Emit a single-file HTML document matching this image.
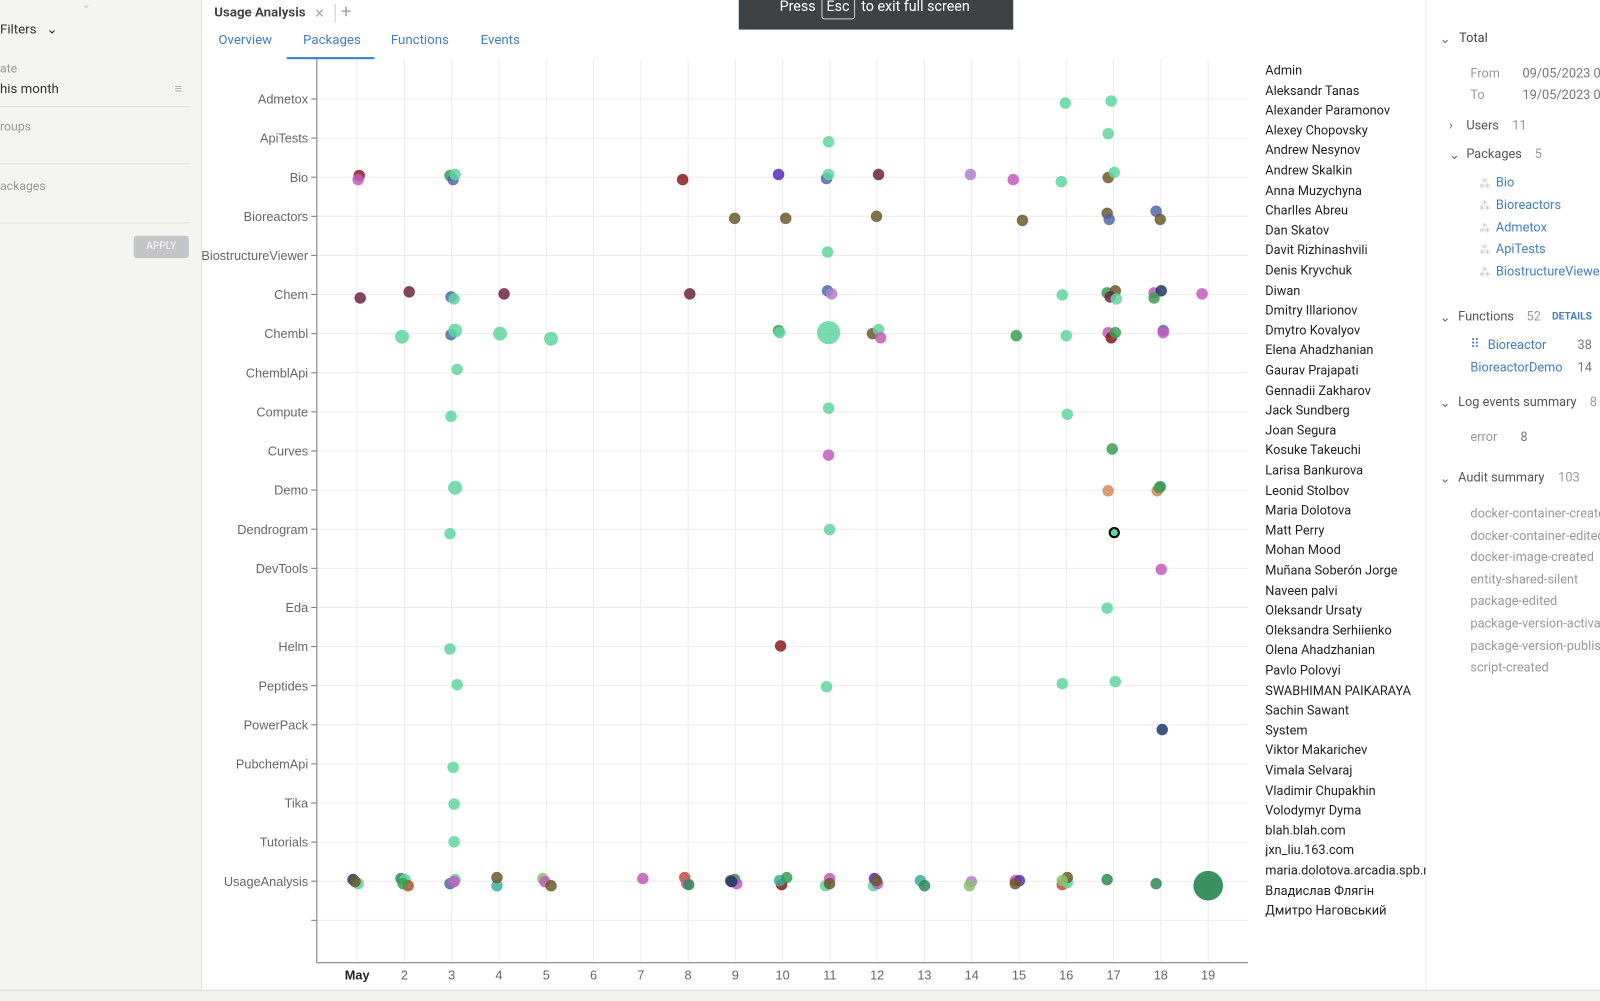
<!DOCTYPE html>
<html><head><meta charset="utf-8"><style>
html,body{margin:0;padding:0;width:1600px;height:1000px;overflow:hidden;background:#fff;font-family:"Roboto","Liberation Sans","Noto Sans CJK SC",sans-serif;}
#w{position:absolute;left:0;top:0;width:1568px;height:980px;transform:scale(1.020408);transform-origin:0 0;}
.a{position:absolute;white-space:nowrap;}
</style></head><body><div id="w">
<div class="a" style="left:0;top:0;width:197px;height:980px;background:#f4f4f1;border-right:1px solid #e3e3e0"></div>
<div class="a" style="left:80px;top:-2px;color:#ccc;font-size:11px">⌄</div>
<div class="a" style="left:0;top:22px;font-size:13px;color:#333">Filters&nbsp;&nbsp;&nbsp;⌄</div>
<div class="a" style="left:0;top:60px;font-size:12px;color:#999">ate</div>
<div class="a" style="left:0;top:80px;font-size:13px;color:#333">his month</div>
<div class="a" style="left:171px;top:79px;font-size:13px;color:#aaa">≡</div>
<div class="a" style="left:0;top:104px;width:185px;height:1px;background:#ddd"></div>
<div class="a" style="left:0;top:117px;font-size:12px;color:#999">roups</div>
<div class="a" style="left:0;top:160px;width:185px;height:1px;background:#ddd"></div>
<div class="a" style="left:0;top:175px;font-size:12px;color:#999">ackages</div>
<div class="a" style="left:0;top:218px;width:185px;height:1px;background:#ddd"></div>
<div class="a" style="left:131px;top:231px;width:54px;height:22px;background:#c4c5c7;border-radius:3px;color:#fff;font-size:10px;line-height:22px;text-align:center">APPLY</div>

<div class="a" style="left:210px;top:5px;font-size:13px;font-weight:bold;color:#444">Usage Analysis</div>
<div class="a" style="left:309px;top:3px;font-size:16px;color:#aaa">×</div>
<div class="a" style="left:328px;top:4px;width:1px;height:18px;background:#ccc"></div>
<div class="a" style="left:334px;top:1px;font-size:18px;color:#aaa">+</div>
<div class="a" style="left:214px;top:32px;font-size:13px;color:#3f7fc4">Overview</div>
<div class="a" style="left:297px;top:32px;font-size:13px;color:#3f7fc4">Packages</div>
<div class="a" style="left:383px;top:32px;font-size:13px;color:#3f7fc4">Functions</div>
<div class="a" style="left:471px;top:32px;font-size:13px;color:#3f7fc4">Events</div>
<div class="a" style="left:281px;top:56px;width:86px;height:2px;background:#2f83d2"></div>

<svg class="a" style="left:0;top:0" width="1568" height="980" id="s"></svg>

<div class="a" style="left:724px;top:0;width:269px;height:29px;background:#3f4245;color:#fff;font-size:14px;line-height:14px"><span style="position:absolute;left:40px;top:0">Press</span><span style="position:absolute;left:81px;top:-4px;border:1px solid #ccc;border-radius:3px;padding:3px 4px 4px">Esc</span><span style="position:absolute;left:120px;top:0">to exit full screen</span></div>

<div id="leg"></div>
<div class="a" style="left:1397px;top:0;width:1px;height:970px;background:#eee"></div>
<div id="rp" style="font-size:12.5px"></div>
<div class="a" style="left:0;top:970px;width:1568px;height:10px;background:#f2f2ef;border-top:1px solid #ddd"></div>
</div>
<script>
var s=document.getElementById('s'),h='';
var cats=["Admetox","ApiTests","Bio","Bioreactors","BiostructureViewer","Chem","Chembl","ChemblApi","Compute","Curves","Demo","Dendrogram","DevTools","Eda","Helm","Peptides","PowerPack","PubchemApi","Tika","Tutorials","UsageAnalysis",""];
function Y(i){return 97+i*38.33}function X(d){return 350+(d-1)*46.33}
for(var i=0;i<22;i++){var y=Y(i);h+='<line x1="310" x2="1223" y1="'+y+'" y2="'+y+'" stroke="#ececec"/><line x1="305" x2="310" y1="'+y+'" y2="'+y+'" stroke="#777"/><text x="302" y="'+(y+4.5)+'" text-anchor="end" font-size="12.5" fill="#666" font-family="Liberation Sans">'+cats[i]+'</text>';}
for(var d=1;d<=19;d++){var x=X(d);h+='<line x1="'+x+'" x2="'+x+'" y1="58" y2="943" stroke="#ececec"/><text x="'+x+'" y="960" text-anchor="middle" font-size="12.5" fill="'+(d==1?'#222':'#666')+'" font-weight="'+(d==1?'bold':'normal')+'" font-family="Liberation Sans">'+(d==1?'May':d)+'</text>';}
h+='<line x1="310.5" x2="310.5" y1="58" y2="943" stroke="#777"/><line x1="310" x2="1223" y1="943.5" y2="943.5" stroke="#777"/>';
var C={M:'#5fd6a0',D:'#6e2340',O:'#6b5a2a',P:'#c45cc0',B:'#5068a8',R:'#8b1a1a',G:'#3aa050',V:'#5b2bc0',L:'#b080d0',N:'#1e3a6a',T:'#2e8b57',Q:'#d88a5a',E:'#c84a30',A:'#90c070',K:'#3ab0a0'};
var p=[[1044,101,'M'],[1089,99,'M'],[812,139,'M'],[1086,131,'M'],
[352,172,'R'],[351,176,'P'],[441,172,'G'],[444,176,'B'],[446,171,'M'],[669,176,'R'],[763,171,'V'],[810,175,'B'],[812,171,'M'],[861,171,'D'],[951,171,'L'],[993,176,'P'],[1040,178,'M'],[1086,174,'O'],[1092,169,'M'],
[720,214,'O'],[770,214,'O'],[859,212,'O'],[1002,216,'O'],[1085,209,'O'],[1087,215,'B'],[1133,207,'B'],[1137,215,'O'],[811,247,'M'],
[353,292,'D'],[401,286,'D'],[442,291,'B'],[445,293,'M'],[494,288,'D'],[676,288,'D'],[811,285,'B'],[815,288,'L'],[1041,289,'M'],[1085,287,'G'],[1093,285,'O'],[1088,291,'D'],[1094,293,'M'],[1131,287,'P'],[1138,285,'N'],[1131,292,'G'],[1178,288,'P'],
[394,330,'M',6.5],[442,328,'B'],[446,324,'M',6.5],[490,327,'M',6.5],[540,332,'M',6.5],[763,324,'G'],[764,326,'M'],[812,326,'M',11],[855,327,'O'],[861,323,'M'],[863,331,'P'],[996,329,'G'],[1045,329,'M'],[1086,326,'P'],[1089,331,'R'],[1093,326,'G'],[1140,324,'B'],[1140,326,'P'],
[448,362,'M'],[442,408,'M'],[812,400,'M'],[1046,406,'M'],[812,446,'P'],[1090,440,'G'],
[446,478,'M',6.5],[1086,481,'Q'],[1137,477,'T'],[1134,481,'Q'],[1136,478,'G'],
[441,523,'M'],[813,519,'M'],[1138,558,'P'],[1085,596,'M'],[441,636,'M'],[765,633,'R'],
[448,671,'M'],[810,673,'M'],[1041,670,'M'],[1093,668,'M'],[1139,715,'N'],[444,752,'M'],[445,788,'M'],[445,825,'M'],
[346,862,'N'],[351,866,'M'],[348,864,'O'],[393,861,'T'],[397,862,'M'],[400,868,'E'],[395,866,'G'],[441,866,'B'],[446,862,'M'],[445,864,'P'],[487,868,'K'],[487,860,'O'],[532,861,'A'],[534,864,'P'],[540,868,'O'],[630,861,'P'],
[671,860,'E'],[673,866,'P'],[675,867,'T'],[716,863,'O'],[720,862,'T'],[722,866,'P'],[717,864,'N'],[766,867,'R'],[764,863,'K'],[771,860,'G'],[809,868,'M'],[813,861,'P'],[813,866,'O'],[856,868,'M'],[857,861,'V'],[860,866,'P'],[859,863,'O'],
[902,863,'K'],[906,868,'T'],[952,864,'L'],[950,868,'A'],[995,863,'P'],[999,863,'V'],[995,866,'O'],[1041,867,'E'],[1046,865,'M'],[1046,860,'O'],[1041,863,'A'],[1085,862,'T'],[1133,866,'T']];
p.forEach(function(a){h+='<circle cx="'+a[0]+'" cy="'+a[1]+'" r="'+(a[3]||5.3)+'" fill="'+C[a[2]]+'" fill-opacity="0.85" stroke="'+C[a[2]]+'" stroke-opacity="0.6" stroke-width="0.8"/>';});
h+='<circle cx="1092" cy="522" r="4.5" fill="#5fd6a0" stroke="#000" stroke-width="2"/>';
h+='<circle cx="1184" cy="868" r="14.5" fill="#2e8b57" fill-opacity="0.95"/>';
s.innerHTML=h;
var n=["Admin","Aleksandr Tanas","Alexander Paramonov","Alexey Chopovsky","Andrew Nesynov","Andrew Skalkin","Anna Muzychyna","Charlles Abreu","Dan Skatov","Davit Rizhinashvili","Denis Kryvchuk","Diwan","Dmitry Illarionov","Dmytro Kovalyov","Elena Ahadzhanian","Gaurav Prajapati","Gennadii Zakharov","Jack Sundberg","Joan Segura","Kosuke Takeuchi","Larisa Bankurova","Leonid Stolbov","Maria Dolotova","Matt Perry","Mohan Mood","Muñana Soberón Jorge","Naveen palvi","Oleksandr Ursaty","Oleksandra Serhiienko","Olena Ahadzhanian","Pavlo Polovyi","SWABHIMAN PAIKARAYA","Sachin Sawant","System","Viktor Makarichev","Vimala Selvaraj","Vladimir Chupakhin","Volodymyr Dyma","blah.blah.com","jxn_liu.163.com","maria.dolotova.arcadia.spb.ru","Владислав Флягін","Дмитро Наговський"];
var l='';n.forEach(function(t,i){l+='<div class="a" style="left:1240px;top:'+(62+i*19.6)+'px;font-size:12.5px;color:#222;width:157px;overflow:hidden">'+t+'</div>';});
document.getElementById('leg').innerHTML=l;
var r=[[1411,30,'⌄','#666'],[1430,30,'Total','#444'],[1441,65,'From','#999'],[1492,65,'09/05/2023 0','#777'],[1441,86,'To','#999'],[1492,86,'19/05/2023 0','#777'],
[1420,116,'›','#666'],[1437,116,'Users','#555'],[1482,116,'11','#999'],[1420,144,'⌄','#666'],[1437,144,'Packages','#555'],[1504,144,'5','#999'],
[1466,172,'Bio','#3f7fc4'],[1466,194,'Bioreactors','#3f7fc4'],[1466,216,'Admetox','#3f7fc4'],[1466,237,'ApiTests','#3f7fc4'],[1466,259,'BiostructureViewer','#3f7fc4'],
[1411,303,'⌄','#666'],[1429,303,'Functions','#555'],[1496,303,'52','#999'],[1458,331,'Bioreactor','#3f7fc4'],[1546,331,'38','#777'],[1441,353,'BioreactorDemo','#3f7fc4'],[1546,353,'14','#777'],
[1411,387,'⌄','#666'],[1429,387,'Log events summary','#555'],[1558,387,'8','#999'],[1441,421,'error','#999'],[1490,421,'8','#777'],
[1411,461,'⌄','#666'],[1429,461,'Audit summary','#555'],[1527,461,'103','#999']];
var ev=["docker-container-created","docker-container-edited","docker-image-created","entity-shared-silent","package-edited","package-version-activated","package-version-published","script-created"];
ev.forEach(function(t,i){r.push([1441,496+i*21.6,t,'#999']);});
var q='';r.forEach(function(a){q+='<div class="a" style="left:'+a[0]+'px;top:'+a[1]+'px;color:'+a[3]+'">'+a[2]+'</div>';});
[172,194,216,237,259].forEach(function(y){q+='<div class="a" style="left:1449px;top:'+(y-1)+'px;color:#bbb;font-size:12px">⁂</div>';});
q+='<div class="a" style="left:1521px;top:305px;color:#3f7fc4;font-size:10px;font-weight:bold">DETAILS</div><div class="a" style="left:1441px;top:330px;color:#3f7fc4;font-size:12px">⠿</div>';
document.getElementById('rp').innerHTML=q;
</script>
</body></html>
